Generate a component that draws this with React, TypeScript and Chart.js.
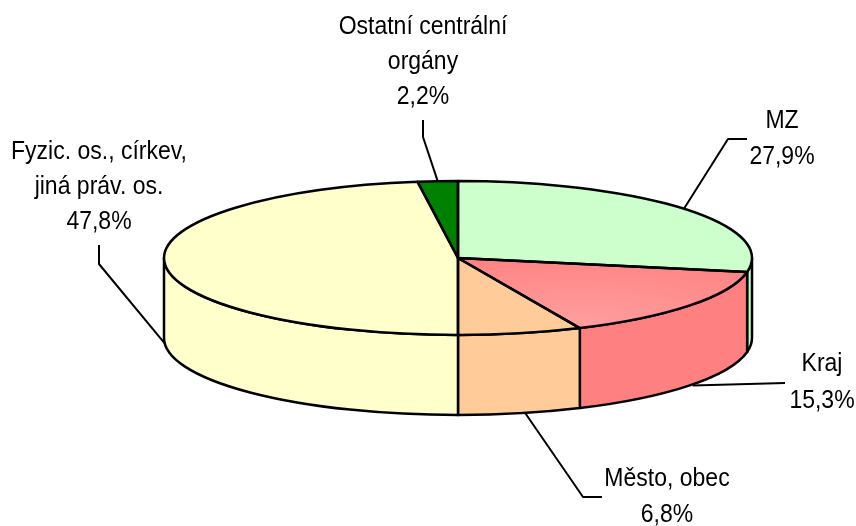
import React, { useEffect, useRef } from "react";
import { Chart, registerables } from "chart.js";

Chart.register(...registerables);

const categories = ["MZ", "Kraj", "Město, obec", "Fyzic. os., církev, jiná práv. os.", "Ostatní centrální orgány"];
const labelLines = [["MZ"], ["Kraj"], ["Město, obec"], ["Fyzic. os., církev,", "jiná práv. os."], ["Ostatní centrální", "orgány"]];
const values = [27.9, 15.3, 6.8, 47.8, 2.2];
const topColors = ["#CCFFCC", "#FF8080", "#FFCC99", "#FFFFCC", "#008000"];
const wallColors = ["#CCFFCC", "#FF8080", "#FFCC99", "#FFFFCC", "#008000"];

// layout of the projected disc
const RX = 294;
const RY = 77;
const DEPTH = 80;
const FONT = '25px "Liberation Sans", Arial, sans-serif';
const TEXT_SQUEEZE = 0.92;
// [text centre x, first-line centre y, line step]
const labelPos = [
  [782, 121, 36],
  [822, 364, 37],
  [667, 479, 36],
  [99, 152, 35],
  [423, 27, 35],
];
// leader waypoints, from the label side towards the slice
const leaderPoints = [
  [[747, 139], [728, 139]],
  [[785, 383]],
  [[602, 497], [583, 497]],
  [[99, 245], [99, 264]],
  [[423, 120], [423, 137]],
];
const anchorNudge = [0, 3, 5, 0, 0];

const frontAngle = (a: number) => Math.sin(a) > 0.02;

const pie3d = {
  id: "pie3d",
  beforeDatasetsDraw(chart: any) {
    const ctx = chart.ctx;
    const arcs = chart.getDatasetMeta(0).data;
    const { x: cx, y: cy } = arcs[0];
    // side walls
    ctx.save();
    ctx.lineWidth = 2.5;
    ctx.lineJoin = "round";
    ctx.strokeStyle = "#000";
    arcs.forEach((arc: any, i: number) => {
      const a = Math.max(arc.startAngle, 0);
      const b = Math.min(arc.endAngle, Math.PI);
      if (b <= a) return;
      ctx.beginPath();
      ctx.ellipse(cx, cy, RX, RY, 0, a, b);
      ctx.ellipse(cx, cy + DEPTH, RX, RY, 0, b, a, true);
      ctx.closePath();
      ctx.fillStyle = wallColors[i];
      ctx.fill();
      ctx.stroke();
    });
    ctx.restore();
    // squash the library's round pie into the top face
    ctx.save();
    ctx.translate(cx, cy);
    ctx.scale(1, RY / RX);
    ctx.translate(-cx, -cy);
  },
  afterDatasetsDraw(chart: any) {
    const ctx = chart.ctx;
    ctx.restore();
    const arcs = chart.getDatasetMeta(0).data;
    const { x: cx, y: cy } = arcs[0];
    ctx.save();
    ctx.lineWidth = 2.5;
    ctx.lineJoin = "round";
    ctx.strokeStyle = "#000";
    // top-face outlines
    arcs.forEach((arc: any) => {
      ctx.beginPath();
      ctx.moveTo(cx, cy);
      ctx.ellipse(cx, cy, RX, RY, 0, arc.startAngle, arc.endAngle);
      ctx.closePath();
      ctx.stroke();
    });
    // leaders
    ctx.lineWidth = 2;
    arcs.forEach((arc: any, i: number) => {
      const mid = (arc.startAngle + arc.endAngle) / 2;
      const px = cx + RX * Math.cos(mid) + anchorNudge[i];
      const py = cy + RY * Math.sin(mid) + (frontAngle(mid) ? DEPTH : 0);
      ctx.beginPath();
      leaderPoints[i].forEach((p, k) => (k ? ctx.lineTo(p[0], p[1]) : ctx.moveTo(p[0], p[1])));
      ctx.lineTo(px, py);
      ctx.stroke();
    });
    // labels
    ctx.fillStyle = "#000";
    ctx.font = FONT;
    ctx.textAlign = "center";
    ctx.textBaseline = "middle";
    labelLines.forEach((lines, i) => {
      const [x, y, step] = labelPos[i];
      const text = [...lines, values[i].toFixed(1).replace(".", ",") + "%"];
      text.forEach((t, k) => {
        ctx.save();
        ctx.translate(x, y + k * step);
        ctx.scale(TEXT_SQUEEZE, 1);
        ctx.fillText(t, 0, 0);
        ctx.restore();
      });
    });
    ctx.restore();
  },
};

export default function App() {
  const ref = useRef<HTMLCanvasElement>(null);
  useEffect(() => {
    const canvas = ref.current!;
    const chart = new Chart(canvas, {
      type: "pie",
      data: {
        labels: categories,
        datasets: [
          {
            data: values,
            clip: false,
            borderWidth: 0,
            backgroundColor: (c: any) => {
              if (c.dataIndex !== 1) return topColors[c.dataIndex];
              const g = c.chart.ctx.createRadialGradient(575, 510, 20, 575, 510, 300);
              g.addColorStop(0, "#FF9C9C");
              g.addColorStop(1, "#FF8080");
              return g;
            },
          } as any,
        ],
      },
      options: {
        responsive: false,
        animation: false,
        radius: RX,
        layout: { padding: { left: 60, bottom: 10 } },
        plugins: { legend: { display: false }, tooltip: { enabled: false } },
      } as any,
      plugins: [pie3d],
    });
    return () => chart.destroy();
  }, []);
  return (
    <canvas
      ref={ref}
      width={856}
      height={526}
      style={{ position: "absolute", left: 0, top: 0, display: "block" }}
    />
  );
}
